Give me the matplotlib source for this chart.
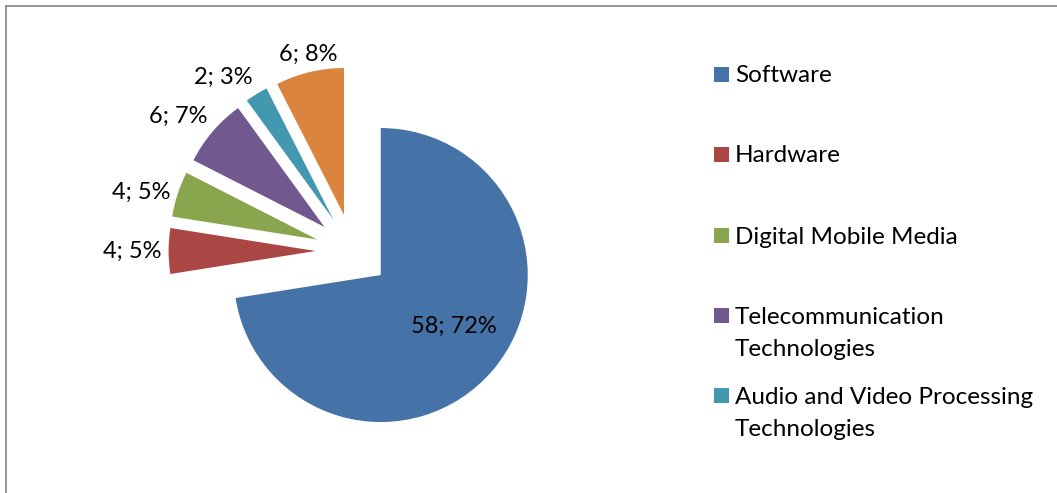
import matplotlib.pyplot as plt
import numpy as np
from matplotlib.lines import Line2D
from matplotlib.patches import Rectangle

categories = ["Software", "Hardware", "Digital Mobile Media",
              "Telecommunication\nTechnologies",
              "Audio and Video Processing\nTechnologies", "Other"]
counts = [58, 4, 4, 6, 2, 6]
shares = [72, 5, 5, 7, 3, 8]
colors = ["#4572A7", "#AA4643", "#89A54E", "#71588F", "#4198AF", "#DB843D"]
# only the first five entries fit in the legend box
legend_count = 5

W, H = 1057, 493
plt.rcParams["font.family"] = ["Lato", "DejaVu Sans"]

fig = plt.figure(figsize=(W / 100, H / 100), dpi=100)
ax = fig.add_axes([0, 0, 1, 1])

radius = 147
# explode is in data units here (pixels), not a fraction of the radius
wedges, _ = ax.pie(counts, colors=colors, startangle=90, counterclock=False,
                   radius=radius, center=(352.6, H - 251),
                   explode=[37] * len(counts),
                   wedgeprops=dict(linewidth=0))
ax.set_xlim(0, W)
ax.set_ylim(0, H)
ax.set_aspect("equal")
ax.axis("off")

label_fs = 17
legend_fs = 17.5
for i, w in enumerate(wedges):
    text = "%d; %d%%" % (counts[i], shares[i])
    mid = np.deg2rad((w.theta1 + w.theta2) / 2)
    ux, uy = np.cos(mid), np.sin(mid)
    cx, cy = w.center
    if i == 0:
        ax.text(cx + 0.6 * w.r * ux + 6, cy + 0.6 * w.r * uy + 6, text,
                ha="center", va="center", fontsize=label_fs, color="black")
        continue
    gap = 7
    x = cx + (w.r + gap) * ux
    y = cy + (w.r + gap) * uy
    ha = "right" if ux < -0.35 else ("left" if ux > 0.35 else "center")
    va = "bottom" if uy > 0.35 else ("top" if uy < -0.35 else "center")
    ax.text(x, y, text, ha=ha, va=va, fontsize=label_fs, color="black")

# legend drawn by hand so the wrapped names keep Excel's spacing
entry_y = [74, 154, 235, 315, 395]
for i in range(legend_count):
    y0 = H - entry_y[i]
    ax.add_patch(Rectangle((714, y0 - 7.5), 15, 15, color=colors[i], lw=0))
    for k, line in enumerate(categories[i].split("\n")):
        ax.text(735, y0 - 2 - 33 * k, line, ha="left", va="center",
                fontsize=legend_fs, color="black")

# chart-area border along the top and left
fig.add_artist(Line2D([6 / W, 1], [1 - 6 / H, 1 - 6 / H], color="#8c8c8c",
                      lw=1.3, transform=fig.transFigure))
fig.add_artist(Line2D([6 / W, 6 / W], [0, 1 - 6 / H], color="#8c8c8c",
                      lw=1.3, transform=fig.transFigure))

fig.savefig("out.png", dpi=100, facecolor="white")
